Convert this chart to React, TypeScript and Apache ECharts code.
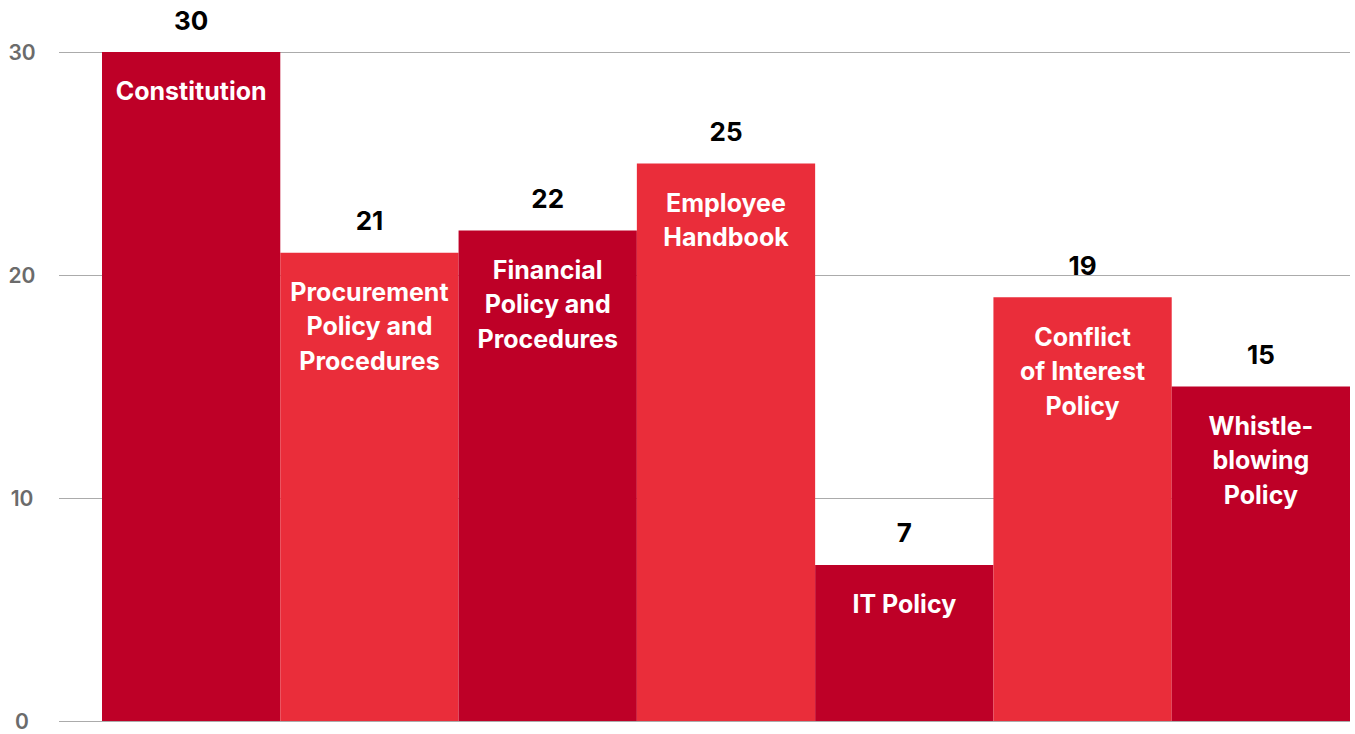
import React, { useEffect, useRef } from "react";
import * as echarts from "echarts";

const categories = [
  "Constitution",
  "Procurement Policy and Procedures",
  "Financial Policy and Procedures",
  "Employee Handbook",
  "IT Policy",
  "Conflict of Interest Policy",
  "Whistle-blowing Policy",
];
const displayLabels = [
  "Constitution",
  "Procurement\nPolicy and\nProcedures",
  "Financial\nPolicy and\nProcedures",
  "Employee\nHandbook",
  "IT Policy",
  "Conflict\nof Interest\nPolicy",
  "Whistle-\nblowing\nPolicy",
];
const values = [30, 21, 22, 25, 7, 19, 15];
const colors = ["#BE0027", "#EA2D3A", "#BE0027", "#EA2D3A", "#BE0027", "#EA2D3A", "#BE0027"];
const yMin = 0;
const yMax = 30;
const yInterval = 10;

const FONT = "Inter, 'Noto Sans', sans-serif";

export default function App() {
  const ref = useRef<HTMLDivElement>(null);
  useEffect(() => {
    document.body.style.margin = "0";
    const chart = echarts.init(ref.current!, null, { renderer: "svg" });
    chart.setOption({
      animation: false,
      backgroundColor: "#ffffff",
      grid: [
        { left: 59, right: 5, top: 52, bottom: 13 },
        { left: 102, right: 5, top: 52, bottom: 13 },
      ],
      xAxis: [
        { type: "category", gridIndex: 0, data: categories, show: false },
        {
          type: "category",
          gridIndex: 1,
          data: categories,
          axisLine: { show: false },
          axisTick: { show: false },
          axisLabel: { show: false },
        },
      ],
      yAxis: [
        {
          type: "value",
          gridIndex: 0,
          min: yMin,
          max: yMax,
          interval: yInterval,
          axisLine: { show: false },
          axisTick: { show: false },
          splitLine: { lineStyle: { color: "#ABABAB", width: 1 } },
          axisLabel: {
            align: "center",
            margin: 37,
            color: "#6B6B6B",
            fontSize: 21,
            fontWeight: 600,
            fontFamily: FONT,
          },
        },
        {
          type: "value",
          gridIndex: 1,
          min: yMin,
          max: yMax,
          interval: yInterval,
          show: false,
          splitLine: { show: false },
        },
      ],
      series: [
        {
          type: "bar",
          xAxisIndex: 1,
          yAxisIndex: 1,
          barCategoryGap: 0,
          data: values.map((v, i) => ({ value: v, itemStyle: { color: colors[i] } })),
          label: {
            show: true,
            position: "top",
            distance: 19,
            color: "#000000",
            fontSize: 26,
            fontWeight: 700,
            fontFamily: FONT,
          },
        },
        {
          type: "bar",
          xAxisIndex: 1,
          yAxisIndex: 1,
          barCategoryGap: 0,
          barGap: "-100%",
          data: values.map((v) => ({ value: v, itemStyle: { color: "rgba(0,0,0,0)" } })),
          label: {
            show: true,
            position: "insideTop",
            distance: 22,
            formatter: (p: any) => displayLabels[p.dataIndex],
            color: "#ffffff",
            fontSize: 25,
            fontWeight: 700,
            lineHeight: 34.5,
            align: "center",
            fontFamily: FONT,
          },
        },
      ],
    });
    return () => chart.dispose();
  }, []);
  return <div ref={ref} style={{ width: 1355, height: 734 }} />;
}
